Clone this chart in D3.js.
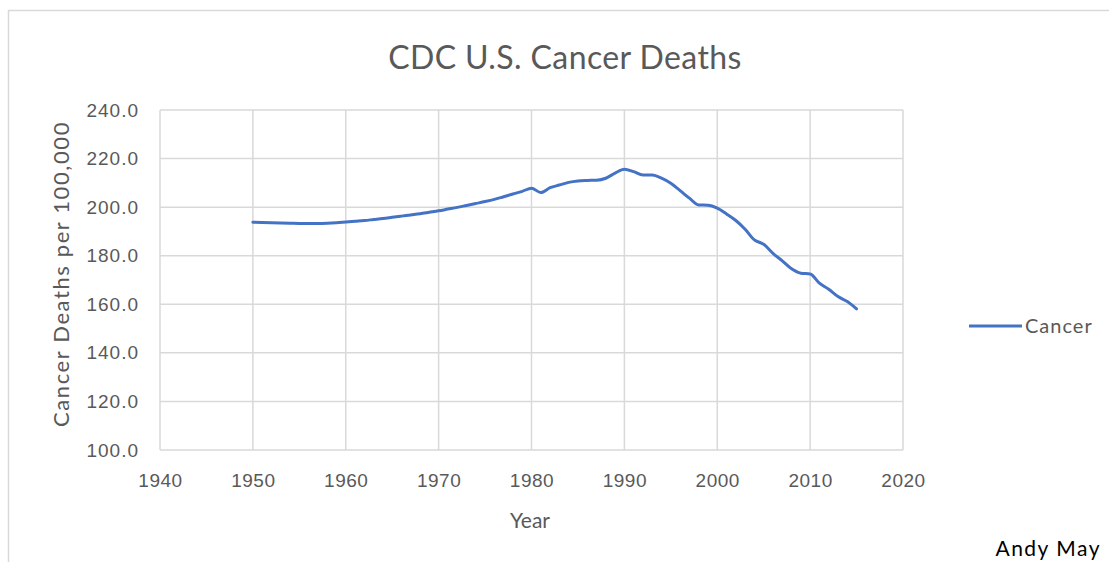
<!DOCTYPE html>
<html>
<head>
<meta charset="utf-8">
<script src="https://cdn.jsdelivr.net/npm/d3@7"></script>
<style>
  body { margin: 0; background: #fff; }
  svg { display: block; font-family: Lato, "Open Sans", sans-serif; }
</style>
</head>
<body>
<svg id="chart" width="1109" height="562"></svg>
<script>
// values, deaths per 100,000
const years = d3.range(1950, 2016);
const cancer = [
  193.8, 193.7, 193.6, 193.5, 193.4, 193.3, 193.3, 193.3, 193.4, 193.6,
  193.9, 194.2, 194.5, 194.9, 195.3, 195.8, 196.3, 196.8, 197.3, 197.9,
  198.5, 199.2, 199.9, 200.7, 201.5, 202.3, 203.2, 204.3, 205.4, 206.5,
  207.8, 206.0, 208.0, 209.1, 210.2, 210.8, 211.0, 211.1, 211.9, 214.0,
  215.6, 214.6, 213.2, 213.2, 211.9, 209.8, 206.8, 203.7, 200.9, 200.8,
  199.6, 197.2, 194.5, 190.9, 186.5, 184.7, 181.0, 177.9, 174.6, 172.8,
  172.5, 168.7, 166.2, 163.2, 161.1, 158.1
];
const xTicks = [1940, 1950, 1960, 1970, 1980, 1990, 2000, 2010, 2020];
const yTicks = [100, 120, 140, 160, 180, 200, 220, 240];
const seriesName = "Cancer";

const svg = d3.select("#chart");
const margin = {left: 160, right: 903, top: 110, bottom: 450};

const x = d3.scaleLinear().domain([1940, 2020]).range([margin.left, margin.right]);
const y = d3.scaleLinear().domain([100, 240]).range([margin.bottom, margin.top]);

// outer chart frame
svg.append("path")
  .attr("d", "M8.5,562 V10.5 H1109")
  .attr("fill", "none")
  .attr("stroke", "#d9d9d9")
  .attr("stroke-width", 1.5);

// gridlines
svg.append("g")
  .selectAll("line.h")
  .data(yTicks)
  .join("line")
  .attr("x1", margin.left).attr("x2", margin.right)
  .attr("y1", d => y(d)).attr("y2", d => y(d))
  .attr("stroke", "#d9d9d9").attr("stroke-width", 1.5);

svg.append("g")
  .selectAll("line.v")
  .data(xTicks)
  .join("line")
  .attr("x1", d => x(d)).attr("x2", d => x(d))
  .attr("y1", margin.top).attr("y2", margin.bottom)
  .attr("stroke", "#d9d9d9").attr("stroke-width", 1.5);

// axes (labels only, Excel style)
const xAxis = svg.append("g")
  .attr("transform", `translate(0,${margin.bottom})`)
  .call(d3.axisBottom(x).tickValues(xTicks).tickFormat(d3.format("d")).tickSize(0).tickPadding(24));
xAxis.select(".domain").remove();
xAxis.selectAll("text").attr("fill", "#595959")
  .style("font-size", "19px").style("letter-spacing", "0.5px");

const yAxis = svg.append("g")
  .attr("transform", `translate(${margin.left},0)`)
  .call(d3.axisLeft(y).tickValues(yTicks).tickFormat(d3.format(".1f")).tickSize(0).tickPadding(21));
yAxis.select(".domain").remove();
yAxis.selectAll("text").attr("fill", "#595959")
  .style("font-size", "19px").style("letter-spacing", "1px");

// series
const line = d3.line()
  .x((d, i) => x(years[i]))
  .y(d => y(d))
  .curve(d3.curveMonotoneX);

svg.append("path")
  .datum(cancer)
  .attr("d", line)
  .attr("fill", "none")
  .attr("stroke", "#4472c4")
  .attr("stroke-width", 3)
  .attr("stroke-linecap", "round")
  .attr("stroke-linejoin", "round");

// titles
svg.append("text")
  .attr("x", 565).attr("y", 69)
  .attr("text-anchor", "middle")
  .attr("fill", "#595959")
  .style("font-size", "32px")
  .style("letter-spacing", "0.4px")
  .text("CDC U.S. Cancer Deaths");

svg.append("text")
  .attr("x", 530).attr("y", 528)
  .attr("text-anchor", "middle")
  .attr("fill", "#595959")
  .style("font-size", "21px")
  .text("Year");

svg.append("text")
  .attr("transform", `translate(69,${(margin.top + margin.bottom) / 2 - 6}) rotate(-90)`)
  .attr("text-anchor", "middle")
  .attr("fill", "#595959")
  .style("font-size", "22px")
  .style("letter-spacing", "1.6px")
  .text("Cancer Deaths per 100,000");

// legend
svg.append("line")
  .attr("x1", 969).attr("x2", 1022)
  .attr("y1", 326).attr("y2", 326)
  .attr("stroke", "#4472c4").attr("stroke-width", 3);
svg.append("text")
  .attr("x", 1025).attr("y", 333)
  .attr("fill", "#595959")
  .style("font-size", "20px")
  .style("letter-spacing", "1px")
  .text(seriesName);

svg.append("text")
  .attr("x", 1101).attr("y", 556)
  .attr("text-anchor", "end")
  .attr("fill", "#000")
  .style("font-size", "21px")
  .style("letter-spacing", "1.5px")
  .text("Andy May");
</script>
</body>
</html>
